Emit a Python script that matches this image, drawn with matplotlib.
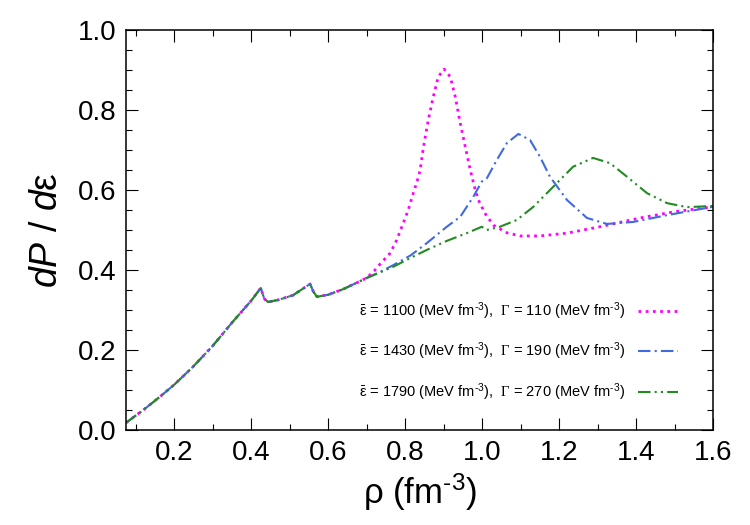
import numpy as np
import matplotlib
matplotlib.use('Agg')
import matplotlib.pyplot as plt
from matplotlib.ticker import MultipleLocator

plt.rcParams['font.family'] = ['Liberation Sans', 'DejaVu Sans']
plt.rcParams['mathtext.fontset'] = 'custom'
plt.rcParams['mathtext.rm'] = 'Liberation Sans'
plt.rcParams['mathtext.it'] = 'Liberation Sans:italic'
plt.rcParams['mathtext.sf'] = 'Liberation Serif'

# shared low-density part (same for all three parametrisations)
rho_low = [0.075, 0.12, 0.163, 0.2, 0.249, 0.3, 0.35, 0.4, 0.425, 0.434,
           0.444, 0.47, 0.509, 0.553, 0.562, 0.571, 0.6, 0.639, 0.683, 0.70]
dpde_low = [0.018, 0.050, 0.083, 0.113, 0.158, 0.210, 0.268, 0.323, 0.355, 0.328,
            0.320, 0.325, 0.337, 0.365, 0.345, 0.333, 0.338, 0.352, 0.372, 0.380]

rho_1 = [0.72, 0.735, 0.761, 0.778, 0.795, 0.808, 0.821, 0.832, 0.839, 0.847, 0.86,
         0.873, 0.886, 0.901, 0.917, 0.93, 0.943, 0.956, 0.969, 0.981, 0.99,
         1.007, 1.029, 1.064, 1.098, 1.15, 1.22, 1.306, 1.41, 1.496, 1.6]
dpde_1 = [0.398, 0.415, 0.442, 0.475, 0.517, 0.55, 0.592, 0.625, 0.65, 0.705, 0.775,
          0.833, 0.883, 0.902, 0.883, 0.833, 0.767, 0.708, 0.65, 0.604, 0.575,
          0.542, 0.512, 0.493, 0.485, 0.485, 0.492, 0.508, 0.53, 0.545, 0.558]

rho_2 = [0.735, 0.769, 0.815, 0.856, 0.908, 0.943, 0.977, 0.999, 1.012, 1.038,
         1.064, 1.094, 1.124, 1.15, 1.176, 1.22, 1.272, 1.324, 1.392, 1.48, 1.6]
dpde_2 = [0.395, 0.412, 0.437, 0.467, 0.508, 0.533, 0.583, 0.621, 0.629, 0.675,
          0.717, 0.740, 0.725, 0.683, 0.633, 0.575, 0.530, 0.515, 0.520, 0.537, 0.558]

rho_3 = [0.735, 0.769, 0.82, 0.856, 0.909, 0.96, 0.999, 1.012, 1.046, 1.09,
         1.133, 1.168, 1.202, 1.236, 1.288, 1.332, 1.376, 1.428, 1.48, 1.532, 1.6]
dpde_3 = [0.394, 0.408, 0.433, 0.45, 0.473, 0.492, 0.508, 0.50, 0.508, 0.525,
          0.558, 0.592, 0.625, 0.658, 0.680, 0.667, 0.633, 0.592, 0.567, 0.557, 0.560]

eps_bar = [1100, 1430, 1790]
gammas = [110, 190, 270]

series = [(rho_1, dpde_1, '#ff00ff', (0, (1, 1.6)), 2.0),
          (rho_2, dpde_2, '#4169e1', (0, (6, 2, 1, 2)), 1.5),
          (rho_3, dpde_3, '#228b22', (0, (6, 2, 1, 2, 1, 2)), 1.5)]

fig = plt.figure(figsize=(7.5, 5.25), dpi=100)
ax = fig.add_axes([0.168, 0.181, 0.783, 0.762])

for (rx, ry, col, ls, lw), e, g in zip(series, eps_bar, gammas):
    x = list(rho_low) + list(rx)
    y = list(dpde_low) + list(ry)
    lab = (r'$\bar{\mathrm{ε}}$ = %d (MeV fm$^{‐3}$),  $\mathsf{Γ}$ = %d (MeV fm$^{‐3}$)'
           % (e, g))
    ax.plot(x, y, color=col, linestyle=ls, lw=lw, label=lab)

ax.set_xlim(0.075, 1.6)
ax.set_ylim(0.0, 1.0)
ax.xaxis.set_major_locator(MultipleLocator(0.2))
ax.xaxis.set_minor_locator(MultipleLocator(0.1))
ax.yaxis.set_major_locator(MultipleLocator(0.2))
ax.yaxis.set_minor_locator(MultipleLocator(0.05))
ax.tick_params(which='both', direction='in', top=True, right=True, width=0.8)
ax.tick_params(which='major', length=8.5, labelsize=20, pad=7)
ax.tick_params(which='minor', length=4.5)
for s in ax.spines.values():
    s.set_linewidth(1.1)

ax.set_xlabel(r'ρ (fm$^{‐3}$)', fontsize=25, labelpad=4)
ax.set_ylabel(r'$dP$ / $d$ε', fontsize=27, labelpad=9)

ax.legend(loc='lower right', bbox_to_anchor=(0.962, 0.035), frameon=False,
          markerfirst=False, fontsize=10.5, handlelength=2.7,
          labelspacing=1.3, handletextpad=0.9)

fig.savefig('out.png', dpi=100)
